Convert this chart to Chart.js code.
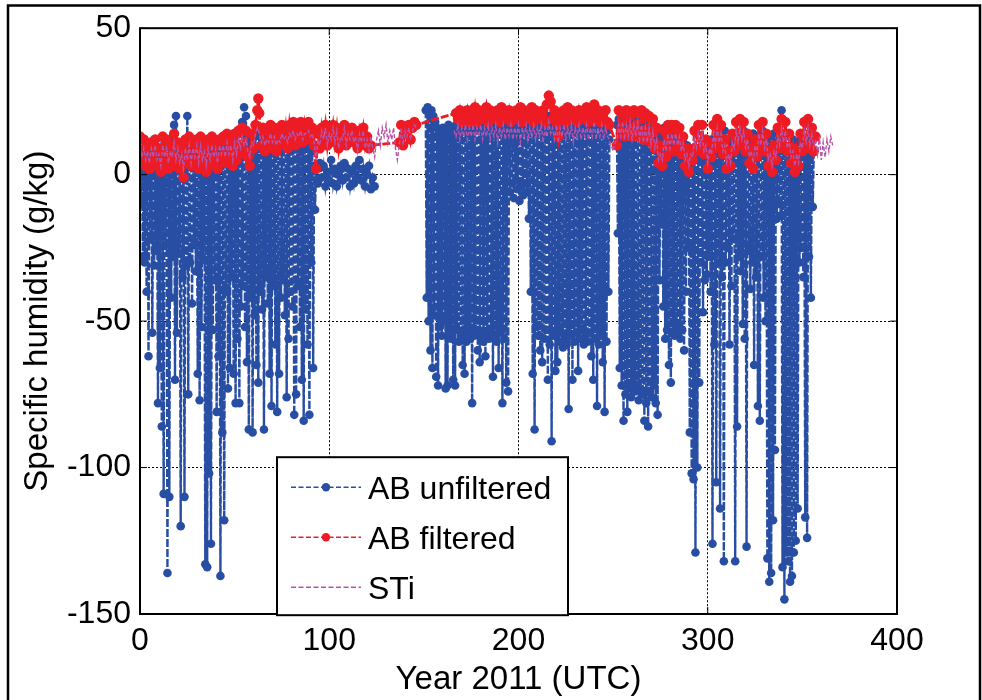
<!DOCTYPE html>
<html>
<head>
<meta charset="utf-8">
<title>Specific humidity 2011</title>
<script src="https://cdn.jsdelivr.net/npm/chart.js@4.4.1/dist/chart.umd.min.js"></script>
<style>
  html, body { margin: 0; padding: 0; background: #fff; }
  #wrap { position: relative; width: 982px; height: 700px; }
</style>
</head>
<body>
<div id="wrap"><canvas id="humidityChart" width="982" height="700"></canvas></div>
<script>
// axis ticks
const xTicks = [0, 100, 200, 300, 400];
const yTicks = [-150, -100, -50, 0, 50];
const legendLabels = ['AB unfiltered', 'AB filtered', 'STi'];

// AB unfiltered: [day, g/kg] (null = no data)
const abUnfiltered = [
  [0,8],[0.5,-10],[1,5],[1.5,-28],[2,9],[2.5,-30],[3,4],[3.5,-40],[4,7],[4.5,-62],[5,10],[5.5,-22],[6,6],[6.5,-54],[7,3],[7.5,-31],[8,8],[8.5,-26],[9,5],[9.5,-78],
  [10,9],[10.5,-66],[11,4],[11.5,-86],[12,7],[12.5,-109],[13,11],[13.5,-24],[14,6],[14.5,-136],[15,3],[15.5,-110],[16,9],[16.5,-42],[17,12],[17.5,-28],[18,17],[18.5,-70],[19,20],[19.5,-54],
  [20,8],[20.5,-27],[21,5],[21.5,-120],[22,2],[22.5,-35],[23,7],[23.5,-110],[24,10],[24.5,-31],[25,20],[25.5,-75],[26,6],[26.5,-30],[27,9],[27.5,-44],[28,4],[28.5,-24],[29,8],[29.5,-33],
  [30,11],[30.5,-68],[31,5],[31.5,-77],[32,9],[32.5,-52],[33,3],[33.5,-29],[34,7],[34.5,-133],[35,10],[35.5,-134],[36,6],[36.5,-102],[37,12],[37.5,-126],[38,4],[38.5,-53],[39,8],[39.5,-36],
  [40,11],[40.5,-81],[41,6],[41.5,-62],[42,9],[42.5,-137],[43,5],[43.5,-88],[44,10],[44.5,-118],[45,7],[45.5,-40],[46,12],[46.5,-73],[47,8],[47.5,-66],[48,11],[48.5,-35],[49,6],[49.5,-68],
  [50,13],[50.5,-78],[51,9],[51.5,-56],[52,10],[52.5,-78],[53,14],[53.5,-45],[54,18],[54.5,-38],[55,23],[55.5,-52],[56,20],[56.5,-64],[57,12],[57.5,-87],[58,8],[58.5,-42],[59,11],[59.5,-88],
  [60,7],[60.5,-48],[61,13],[61.5,-65],[62,9],[62.5,-71],[63,14],[63.5,-40],[64,10],[64.5,-46],[65,12],[65.5,-87],[66,8],[66.5,-35],[67,13],[67.5,-44],[68,11],[68.5,-68],[69,15],[69.5,-79],
  [70,9],[70.5,-38],[71,12],[71.5,-58],[72,14],[72.5,-81],[73,10],[73.5,-68],[74,13],[74.5,-42],[75,15],[75.5,-36],[76,11],[76.5,-48],[77,14],[77.5,-76],[78,12],[78.5,-56],[79,16],[79.5,-40],
  [80,13],[80.5,-45],[81,15],[81.5,-82],[82,12],[82.5,-75],[83,14],[83.5,-38],[84,16],[84.5,-52],[85,13],[85.5,-70],[86,15],[86.5,-84],[87,12],[87.5,-46],[88,14],[88.5,-58],[89,11],[89.5,-82],
  [90,13],[90.5,-30],[91,8],[91.5,-66],[92,3],[92.5,-12],[93,2],[94,-3],[95,4],[96,-1],[97,3],[98,-4],[99,1],[100,-2],[101,5],[102,-3],[103,2],[104,-4],[105,0],[106,3],
  [107,-2],[108,4],[109,-1],[110,2],[111,-4],[112,1],[113,-3],[114,3],[115,-1],[116,5],[117,-2],[118,2],[119,-4],[120,0],[121,3],[122,-5],[123,-1],[124,-4],[137,null],
  [151,22],[151.5,-42],[152,23],[152.5,-50],[153,21],[153.5,-60],[154,22],[154.5,-66],[155,20],[155.5,-48],[156,18],[156.5,-69],[157,16],[157.5,-72],[158,15],[158.5,-52],[159,14],[159.5,-55],
  [160,16],[160.5,-50],[161,13],[161.5,-73],[162,15],[162.5,-72],[163,17],[163.5,-54],[164,14],[164.5,-56],[165,16],[165.5,-70],[166,15],[166.5,-72],[167,17],[167.5,-53],[168,16],[168.5,-57],[169,14],[169.5,-55],
  [170,17],[170.5,-65],[171,15],[171.5,-68],[172,16],[172.5,-57],[173,18],[173.5,-54],[174,15],[174.5,-56],[175,17],[175.5,-78],[176,16],[176.5,-55],[177,18],[177.5,-53],[178,15],[178.5,-60],[179,17],[179.5,-64],
  [180,16],[180.5,-55],[181,18],[181.5,-57],[182,15],[182.5,-62],[183,17],[183.5,-54],[184,16],[184.5,-56],[185,14],[185.5,-53],[186,17],[186.5,-69],[187,15],[187.5,-55],[188,18],[188.5,-57],[189,16],[189.5,-66],
  [190,17],[190.5,-54],[191,15],[191.5,-78],[192,18],[192.5,-56],[193,16],[193.5,-71],[194,17],[194.5,-74],[195,16],[195.5,-6],[196,18],[196.5,-3],[197,15],[197.5,-8],[198,17],[198.5,-2],[199,16],[199.5,-5],
  [200,18],[200.5,-9],[201,15],[201.5,-4],[202,17],[202.5,-7],[203,16],[203.5,-3],[204,18],[204.5,-6],[205,17],[205.5,-15],[206,16],[206.5,-40],[207,17],[207.5,-68],[208,18],[208.5,-87],[209,16],[209.5,-52],
  [210,19],[210.5,-55],[211,17],[211.5,-60],[212,18],[212.5,-64],[213,16],[213.5,-56],[214,19],[214.5,-53],[215,17],[215.5,-70],[216,20],[216.5,-58],[217,18],[217.5,-91],[218,16],[218.5,-55],[219,19],[219.5,-67],
  [220,17],[220.5,-64],[221,18],[221.5,-57],[222,16],[222.5,-54],[223,19],[223.5,-59],[224,17],[224.5,-56],[225,18],[225.5,-58],[226,16],[226.5,-80],[227,19],[227.5,-55],[228,17],[228.5,-70],[229,18],[229.5,-57],
  [230,16],[230.5,-54],[231,19],[231.5,-67],[232,17],[232.5,-56],[233,18],[233.5,-53],[234,16],[234.5,-58],[235,19],[235.5,-55],[236,17],[236.5,-57],[237,18],[237.5,-54],[238,16],[238.5,-62],[239,19],[239.5,-70],
  [240,17],[240.5,-56],[241,18],[241.5,-79],[242,16],[242.5,-58],[243,19],[243.5,-55],[244,17],[244.5,-64],[245,18],[245.5,-81],[246,16],[246.5,-57],[247,15],[247.5,-40],[248,12],[250,null],
  [252,17],[252.5,-20],[253,19],[253.5,-66],[254,18],[254.5,-72],[255,19],[255.5,-84],[256,17],[256.5,-75],[257,18],[257.5,-81],[258,19],[258.5,-73],[259,17],[259.5,-76],
  [260,18],[260.5,-71],[261,19],[261.5,-74],[262,17],[262.5,-72],[263,18],[263.5,-77],[264,16],[264.5,-73],[265,18],[265.5,-75],[266,17],[266.5,-84],[267,19],[267.5,-78],[268,17],[268.5,-86],[269,18],[269.5,-74],
  [270,16],[270.5,-76],[271,17],[271.5,-72],[272,15],[272.5,-78],[273,16],[273.5,-82],[274,14],[274.5,-36],[275,12],[275.5,-17],[276,14],[276.5,-45],[277,16],[277.5,-56],[278,13],[278.5,-53],[279,15],[279.5,-65],
  [280,12],[280.5,-71],[281,14],[281.5,-54],[282,11],[282.5,-55],[283,13],[283.5,-52],[284,10],[284.5,-54],[285,12],[285.5,-56],[286,9],[286.5,-53],[287,11],[287.5,-60],[288,8],[288.5,-40],[289,10],[289.5,-25],
  [290,7],[290.5,-88],[291,9],[291.5,-102],[292,6],[292.5,-104],[293,8],[293.5,-129],[294,5],[294.5,-100],[295,7],[295.5,-71],[296,6],[296.5,-30],[297,8],[297.5,-47],[298,5],[298.5,-36],[299,7],[299.5,-34],
  [300,10],[300.5,-28],[301,6],[301.5,-40],[302,12],[302.5,-126],[303,8],[303.5,-58],[304,13],[304.5,-105],[305,9],[305.5,-30],[306,14],[306.5,-114],[307,7],[307.5,-35],[308,11],[308.5,-132],[309,15],[309.5,-30],
  [310,8],[310.5,-25],[311,12],[311.5,-58],[312,6],[312.5,-38],[313,10],[313.5,-22],[314,14],[314.5,-132],[315,9],[315.5,-86],[316,13],[316.5,-28],[317,7],[317.5,-33],[318,11],[318.5,-51],[319,15],[319.5,-56],
  [320,8],[320.5,-127],[321,12],[321.5,-26],[322,6],[322.5,-39],[323,10],[323.5,-30],[324,14],[324.5,-65],[325,9],[325.5,-35],[326,13],[326.5,-79],[327,7],[327.5,-84],[328,11],[328.5,-28],[329,15],[329.5,-42],
  [330,9],[330.5,-50],[331,12],[331.5,-131],[332,8],[332.5,-139],[333,13],[333.5,-136],[334,10],[334.5,-118],[335,14],[335.5,-94],[336,11],[336.5,-15],[337,15],[337.5,-10],[338,12],[338.5,-14],[339,22],[339.5,-134],
  [340,10],[340.5,-145],[341,14],[341.5,-129],[342,8],[342.5,-132],[343,13],[343.5,-139],[344,9],[344.5,-137],[345,12],[345.5,-129],[346,7],[346.5,-125],[347,11],[347.5,-114],[348,8],[348.5,-30],[349,12],[349.5,-25],
  [350,6],[350.5,-35],[351,10],[351.5,-117],[352,7],[352.5,-124],[353,11],[353.5,-28],[354,8],[354.5,-42],[355,12],[355.5,-11],[356,8]
];

// AB filtered: [day, g/kg]
const abFiltered = [
  [0,13],[1,4],[2,12],[3,3],[4,10],[5,2],[6,11],[7,5],[8,12],[9,3],[10,9],[11,1],[12,13],[13,4],[14,12],[15,2],[16,10],[17,5],[18,14],[19,3],
  [20,11],[21,2],[22,9],[23,-1],[24,12],[25,4],[26,13],[27,3],[28,11],[29,5],[30,12],[31,2],[32,13],[33,4],[34,10],[35,1],[36,12],[37,3],[38,13],[39,5],
  [40,11],[41,2],[42,12],[43,6],[44,13],[45,4],[46,14],[47,6],[48,12],[49,3],[50,14],[51,5],[52,15],[53,7],[54,16],[55,8],[56,15],[57,6],[58,3],[59,14],
  [60,9],[61,17],[62,22],[62.5,26],[63,21],[64,10],[65,16],[66,8],[67,15],[68,9],[69,17],[70,10],[71,16],[72,8],[73,15],[74,10],[75,17],[76,11],[77,16],[78,9],[79,17],
  [80,12],[81,18],[82,10],[83,16],[84,12],[85,18],[86,11],[87,17],[88,13],[89,18],[90,12],[91,16],[92,10],[93,2],[94,14],[95,9],[96,16],[97,12],[98,17],[99,10],
  [100,15],[101,13],[102,17],[103,11],[104,16],[105,9],[106,14],[107,12],[108,17],[109,10],[110,15],[111,13],[112,16],[113,11],[114,14],[115,9],[116,15],[117,12],[118,16],[119,10],
  [120,13],[121,9],[122,10],[137,11],[138,17],[139,10],[140,16],[141,14],[142,17],[143,12],[144,16],[145,18],[146,17],
  [167,21],[168,19],[169,22],[170,18],[171,21],[172,19],[173,22],[174,18],[175,21],[176,19],[177,23],[178,18],[179,22],[180,19],[181,21],[182,19],[183,23],[184,18],[185,22],[186,19],
  [187,21],[188,19],[189,22],[190,18],[191,23],[192,19],[193,21],[194,19],[195,22],[196,18],[197,21],[198,19],[199,22],[200,19],[201,23],[202,18],[203,22],[204,19],[205,21],[206,19],
  [207,23],[208,18],[209,22],[210,19],[211,21],[212,19],[213,22],[214,18],[215,24],[216,27],[217,25],[218,19],[219,22],[220,18],[221,13],[222,21],[223,19],[224,22],[225,18],[226,23],
  [227,19],[228,22],[229,19],[230,21],[231,18],[232,22],[233,19],[234,21],[235,19],[236,23],[237,18],[238,22],[239,19],[240,24],[241,19],[242,22],[243,18],[244,21],[245,19],[246,22],
  [247,18],[248,17],[252,10],[253,22],[254,14],[255,21],[256,13],[257,22],[258,14],[259,21],[260,13],[261,22],[262,14],[263,21],[264,13],[265,22],[266,12],[267,21],[268,12],[269,20],
  [270,11],[271,19],[272,9],[273,16],[274,4],[275,10],[276,3],[277,15],[278,6],[279,17],[280,8],[281,17],[282,8],[283,17],[284,9],[285,16],[286,7],[287,13],[288,3],[289,9],
  [290,1],[291,8],[292,5],[293,15],[294,8],[295,17],[296,9],[297,17],[298,7],[299,12],[300,2],[301,11],[302,6],[303,17],[304,9],[305,19],[306,10],[307,17],[308,7],[309,12],
  [310,2],[311,8],[312,3],[313,14],[314,8],[315,18],[316,10],[317,19],[318,11],[319,18],[320,8],[321,14],[322,4],[323,9],[324,2],[325,12],[326,6],[327,17],[328,9],[329,18],
  [330,8],[331,14],[332,3],[333,8],[334,1],[335,10],[336,5],[337,16],[338,9],[339,19],[340,10],[341,18],[342,8],[343,14],[344,4],[345,9],[346,1],[347,8],[348,3],[349,14],
  [350,8],[351,18],[352,10],[353,19],[354,9],[355,16],[356,8],[357,13]
];

// STi: [day, g/kg]
const sti = [
  [0,10],[1,6],[2,9],[3,5],[4,8],[5,4],[6,9],[7,6],[8,10],[9,5],[10,7],[11,3],[12,10],[13,6],[14,9],[15,4],[16,8],[17,6],[18,11],[19,5],
  [20,9],[21,4],[22,7],[23,2],[24,9],[25,5],[26,10],[27,4],[28,9],[29,6],[30,10],[31,4],[32,10],[33,5],[34,8],[35,3],[36,9],[37,5],[38,10],[39,6],
  [40,9],[41,4],[42,10],[43,7],[44,10],[45,6],[46,11],[47,7],[48,10],[49,5],[50,11],[51,7],[52,12],[53,9],[54,13],[55,10],[56,12],[57,8],[58,6],[59,11],
  [60,10],[61,14],[62,16],[63,14],[64,11],[65,13],[66,10],[67,12],[68,11],[69,14],[70,11],[71,13],[72,10],[73,12],[74,11],[75,14],[76,12],[77,13],[78,11],[79,14],
  [80,13],[81,15],[82,12],[83,14],[84,13],[85,15],[86,12],[87,14],[88,14],[89,15],[90,13],[91,14],[92,11],[93,5],[94,12],[95,10],[96,15],[97,12],[98,16],[99,10],
  [100,14],[101,12],[102,16],[103,11],[104,15],[105,9],[106,13],[107,12],[108,16],[109,10],[110,14],[111,12],[112,15],[113,11],[114,13],[115,8],[116,14],[117,11],[118,15],[119,9],
  [120,12],[121,8],[122,13],[123,9],[124,6],[125,12],[126,15],[127,10],[128,16],[129,13],[130,17],[131,11],[132,15],[133,12],[134,16],[135,9],[136,5],[137,10],[138,16],[139,10],
  [140,15],[141,13],[142,16],[143,12],[144,15],[145,17],[146,16],[147,null],
  [166,15],[167,13],[168,17],[169,12],[170,16],[171,13],[172,17],[173,12],[174,16],[175,13],[176,17],[177,12],[178,16],[179,13],
  [180,17],[181,12],[182,16],[183,13],[184,17],[185,12],[186,16],[187,13],[188,17],[189,11],[190,16],[191,13],[192,17],[193,12],[194,16],[195,13],[196,17],[197,12],[198,16],[199,13],
  [200,17],[201,11],[202,16],[203,13],[204,17],[205,12],[206,16],[207,13],[208,17],[209,12],[210,16],[211,13],[212,17],[213,11],[214,16],[215,13],[216,18],[217,14],[218,16],[219,12],
  [220,17],[221,11],[222,16],[223,13],[224,17],[225,12],[226,16],[227,13],[228,17],[229,11],[230,16],[231,13],[232,17],[233,12],[234,16],[235,13],[236,17],[237,12],[238,16],[239,13],
  [240,18],[241,12],[242,16],[243,13],[244,17],[245,12],[246,16],[247,13],[248,12],[249,10],[250,8],[251,11],[252,12],[253,17],[254,13],[255,18],[256,12],[257,17],[258,13],[259,18],
  [260,12],[261,17],[262,13],[263,18],[264,12],[265,17],[266,11],[267,16],[268,11],[269,16],[270,10],[271,15],[272,9],[273,12],[274,5],[275,7],[276,5],[277,12],[278,8],[279,14],
  [280,9],[281,14],[282,10],[283,14],[284,10],[285,13],[286,8],[287,11],[288,5],[289,7],[290,3],[291,7],[292,6],[293,12],[294,9],[295,14],[296,10],[297,14],[298,8],[299,10],
  [300,4],[301,9],[302,7],[303,14],[304,10],[305,16],[306,11],[307,14],[308,8],[309,10],[310,4],[311,7],[312,4],[313,11],[314,9],[315,15],[316,11],[317,16],[318,12],[319,15],
  [320,9],[321,12],[322,6],[323,8],[324,4],[325,10],[326,7],[327,14],[328,10],[329,15],[330,9],[331,12],[332,5],[333,7],[334,3],[335,8],[336,6],[337,13],[338,10],[339,16],
  [340,11],[341,15],[342,9],[343,12],[344,6],[345,8],[346,3],[347,7],[348,4],[349,11],[350,9],[351,15],[352,11],[353,16],[354,10],[355,14],[356,9],[357,12],[358,7],[359,13],
  [360,5],[361,11],[362,6],[363,12],[364,8],[365,13],[366,10]
];

const blue = 'rgb(40,78,164)';
const red = 'rgb(237,28,36)';
const purple = 'rgb(184,82,170)';
const fontFamily = '"Liberation Sans", Arial, Helvetica, sans-serif';

const toXY = rows => rows.map(r => ({ x: r[0], y: r[1] }));

// box, inward ticks, outer frame and legend (MATLAB look)
const matlabFrame = {
  id: 'matlabFrame',
  beforeDraw(chart) {
    const ctx = chart.ctx;
    ctx.save();
    ctx.strokeStyle = '#000';
    ctx.lineWidth = 2.5;
    ctx.strokeRect(8, 5.5, 972, 700);
    ctx.restore();
  },
  afterDatasetsDraw(chart) {
    const { ctx, chartArea: a, scales: { x, y } } = chart;
    ctx.save();
    ctx.setLineDash([]);
    ctx.strokeStyle = '#000';
    ctx.lineWidth = 1;
    ctx.beginPath();
    xTicks.forEach(v => {
      const px = x.getPixelForValue(v);
      ctx.moveTo(px, a.bottom); ctx.lineTo(px, a.bottom - 7);
      ctx.moveTo(px, a.top); ctx.lineTo(px, a.top + 7);
    });
    yTicks.forEach(v => {
      const py = y.getPixelForValue(v);
      ctx.moveTo(a.left, py); ctx.lineTo(a.left + 7, py);
      ctx.moveTo(a.right, py); ctx.lineTo(a.right - 7, py);
    });
    ctx.stroke();
    ctx.lineWidth = 2;
    ctx.strokeRect(a.left, a.top, a.right - a.left, a.bottom - a.top);
    ctx.restore();
  },
  afterDraw(chart) {
    const { ctx, chartArea: a } = chart;
    const bx = a.left + 137, by = a.top + 429, bw = 291, bh = 158;
    ctx.save();
    ctx.fillStyle = '#fff';
    ctx.fillRect(bx, by, bw, bh);
    ctx.strokeStyle = '#000';
    ctx.lineWidth = 2;
    ctx.strokeRect(bx, by, bw, bh);

    const styles = [
      { color: blue, marker: true },
      { color: red, marker: true },
      { color: purple, marker: false }
    ];
    ctx.font = '32px ' + fontFamily;
    ctx.textAlign = 'left';
    ctx.textBaseline = 'alphabetic';
    legendLabels.forEach((label, i) => {
      const ry = by + 30 + i * 50;
      const s = styles[i];
      ctx.strokeStyle = s.color;
      ctx.lineWidth = 1.5;
      ctx.setLineDash([5, 2.5]);
      ctx.beginPath();
      ctx.moveTo(bx + 14, ry);
      ctx.lineTo(bx + 84, ry);
      ctx.stroke();
      ctx.setLineDash([]);
      if (s.marker) {
        ctx.fillStyle = s.color;
        ctx.beginPath();
        ctx.arc(bx + 49, ry, 4.2, 0, Math.PI * 2);
        ctx.fill();
      }
      ctx.fillStyle = '#000';
      ctx.fillText(label, bx + 91, ry + 11.5);
    });
    ctx.restore();
  }
};

const edgeFree = (edges) => c => (c.tick && edges.includes(c.tick.value)) ? 'rgba(0,0,0,0)' : '#000';

const ctx = document.getElementById('humidityChart').getContext('2d');
new Chart(ctx, {
  type: 'line',
  data: {
    datasets: [
      {
        label: legendLabels[0],
        data: toXY(abUnfiltered),
        borderColor: blue,
        backgroundColor: blue,
        borderWidth: 2.4,
        borderDash: [8, 2],
        pointRadius: 4.3,
        pointBorderWidth: 0,
        pointBackgroundColor: blue,
        spanGaps: false,
        order: 3
      },
      {
        label: legendLabels[1],
        data: toXY(abFiltered),
        borderColor: red,
        backgroundColor: red,
        borderWidth: 2.8,
        borderDash: [8, 2],
        pointRadius: 5.2,
        pointBorderWidth: 0,
        pointBackgroundColor: red,
        order: 2
      },
      {
        label: legendLabels[2],
        data: toXY(sti),
        borderColor: purple,
        backgroundColor: purple,
        borderWidth: 1.4,
        borderDash: [4, 2],
        pointRadius: 0,
        spanGaps: false,
        order: 1
      }
    ]
  },
  options: {
    responsive: false,
    animation: false,
    events: [],
    layout: { padding: { top: 22, right: 85, bottom: 0, left: 0 } },
    plugins: {
      legend: { display: false },
      tooltip: { enabled: false }
    },
    scales: {
      x: {
        type: 'linear',
        min: 0,
        max: 400,
        afterBuildTicks: s => { s.ticks = xTicks.map(v => ({ value: v })); },
        afterFit: s => { s.height = 86; },
        grid: { color: edgeFree([0, 400]), lineWidth: 1, drawTicks: false },
        border: { display: false, dash: [2, 2] },
        ticks: {
          autoSkip: false,
          maxRotation: 0,
          padding: 8,
          color: '#000',
          font: { family: fontFamily, size: 32 },
          callback: v => String(v)
        },
        title: {
          display: true,
          text: 'Year 2011 (UTC)',
          color: '#000',
          font: { family: fontFamily, size: 33 },
          padding: { top: 0, bottom: 0 }
        }
      },
      y: {
        type: 'linear',
        min: -150,
        max: 50,
        afterBuildTicks: s => { s.ticks = yTicks.map(v => ({ value: v })); },
        afterFit: s => { s.width = 140; },
        grid: { color: edgeFree([-150, 50]), lineWidth: 1, drawTicks: false },
        border: { display: false, dash: [2, 2] },
        ticks: {
          autoSkip: false,
          padding: 9,
          color: '#000',
          font: { family: fontFamily, size: 32 },
          callback: v => String(v)
        },
        title: {
          display: true,
          text: 'Specific humidity (g/kg)',
          color: '#000',
          font: { family: fontFamily, size: 33 },
          padding: { top: 18, bottom: 0 }
        }
      }
    }
  },
  plugins: [matlabFrame]
});
</script>
</body>
</html>
